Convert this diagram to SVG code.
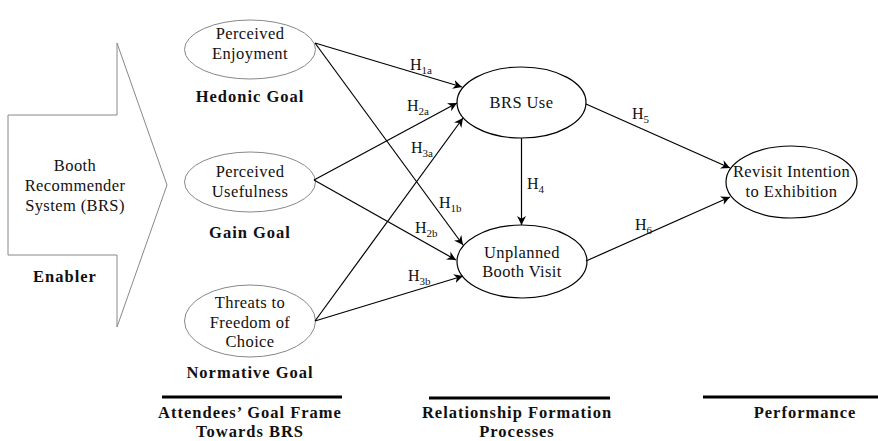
<svg xmlns="http://www.w3.org/2000/svg" width="878" height="441" viewBox="0 0 878 441">
  <defs>
    <marker id="arr" viewBox="0 0 10 10" refX="10" refY="5" markerWidth="9" markerHeight="9" markerUnits="userSpaceOnUse" orient="auto">
      <path d="M0,0 L10,5 L0,10 L3,5 Z" fill="#000"/>
    </marker>
  </defs>
  <style>
    text { font-family: "Liberation Serif", "Times New Roman", serif; font-size: 16.5px; letter-spacing: 0.4px; fill: #111; text-anchor: middle; }
    .b { font-weight: bold; letter-spacing: 1px; }
    .h { text-anchor: start; font-size: 16px; letter-spacing: 0; }
    .s { font-size: 11px; }
    .lead { fill: #fff; stroke: #888; stroke-width: 1; }
    .node { fill: #fff; stroke: #000; stroke-width: 1.2; }
    .edge { fill: none; stroke: #000; stroke-width: 1.2; marker-end: url(#arr); }
    .rule { stroke: #000; stroke-width: 3; }
  </style>

  <!-- enabler block arrow -->
  <g id="enabler">
    <path class="lead" d="M8,115 L117,115 L117,43 L167,185 L117,327 L117,255 L8,255 Z"/>
    <text x="75" y="171">Booth</text>
    <text x="75" y="191">Recommender</text>
    <text x="75" y="211">System (BRS)</text>
    <text class="b" x="65" y="282">Enabler</text>
  </g>

  <!-- goal frame constructs -->
  <g id="perceived-enjoyment">
    <ellipse class="lead" cx="250" cy="49.5" rx="65.5" ry="29.5"/>
    <text x="250" y="39">Perceived</text>
    <text x="250" y="59">Enjoyment</text>
    <text class="b" x="250" y="102">Hedonic Goal</text>
  </g>
  <g id="perceived-usefulness">
    <ellipse class="lead" cx="250" cy="182" rx="65.5" ry="30"/>
    <text x="250" y="177">Perceived</text>
    <text x="250" y="197">Usefulness</text>
    <text class="b" x="250" y="238">Gain Goal</text>
  </g>
  <g id="threats-freedom">
    <ellipse class="lead" cx="250" cy="321" rx="65.5" ry="36"/>
    <text x="250" y="308">Threats to</text>
    <text x="250" y="328">Freedom of</text>
    <text x="250" y="347">Choice</text>
    <text class="b" x="250" y="378">Normative Goal</text>
  </g>

  <!-- relationship formation constructs -->
  <g id="brs-use">
    <ellipse class="node" cx="521.5" cy="102.5" rx="64.5" ry="35.5"/>
    <text x="521.5" y="108">BRS Use</text>
  </g>
  <g id="unplanned-visit">
    <ellipse class="node" cx="522" cy="261.5" rx="65" ry="36.5"/>
    <text x="522" y="258">Unplanned</text>
    <text x="522" y="277">Booth Visit</text>
  </g>

  <!-- performance construct -->
  <g id="revisit-intention">
    <ellipse class="node" cx="791.5" cy="182" rx="65.5" ry="36"/>
    <text x="791.5" y="177">Revisit Intention</text>
    <text x="791.5" y="197">to Exhibition</text>
  </g>

  <!-- hypothesised paths -->
  <g id="paths">
    <line class="edge" x1="315" y1="43" x2="462" y2="87"/>
    <line class="edge" x1="315" y1="43" x2="463" y2="245"/>
    <line class="edge" x1="314" y1="180" x2="457" y2="103"/>
    <line class="edge" x1="314" y1="180" x2="456" y2="260"/>
    <line class="edge" x1="315" y1="321" x2="463" y2="118"/>
    <line class="edge" x1="315" y1="321" x2="463" y2="276"/>
    <line class="edge" x1="521.5" y1="138" x2="521.5" y2="225"/>
    <line class="edge" x1="586" y1="104" x2="730" y2="168"/>
    <line class="edge" x1="586" y1="261" x2="730" y2="197"/>
  </g>

  <!-- path labels -->
  <g id="labels">
    <text class="h" x="410" y="70">H<tspan class="s" dy="4">1a</tspan></text>
    <text class="h" x="407" y="111">H<tspan class="s" dy="4">2a</tspan></text>
    <text class="h" x="411" y="153">H<tspan class="s" dy="4">3a</tspan></text>
    <text class="h" x="439" y="208">H<tspan class="s" dy="4">1b</tspan></text>
    <text class="h" x="415" y="233">H<tspan class="s" dy="4">2b</tspan></text>
    <text class="h" x="408" y="281">H<tspan class="s" dy="4">3b</tspan></text>
    <text class="h" x="527" y="189">H<tspan class="s" dy="4">4</tspan></text>
    <text class="h" x="632" y="119">H<tspan class="s" dy="4">5</tspan></text>
    <text class="h" x="635" y="230">H<tspan class="s" dy="4">6</tspan></text>
  </g>

  <!-- stage headings -->
  <g id="stages">
    <line class="rule" x1="162" y1="397" x2="342" y2="397"/>
    <line class="rule" x1="429" y1="398" x2="610" y2="398"/>
    <line class="rule" x1="703" y1="397" x2="878" y2="397"/>
    <text class="b" x="250" y="418">Attendees’ Goal Frame</text>
    <text class="b" x="250" y="437">Towards BRS</text>
    <text class="b" x="517" y="418">Relationship Formation</text>
    <text class="b" x="517" y="437">Processes</text>
    <text class="b" x="805" y="418">Performance</text>
  </g>
</svg>
